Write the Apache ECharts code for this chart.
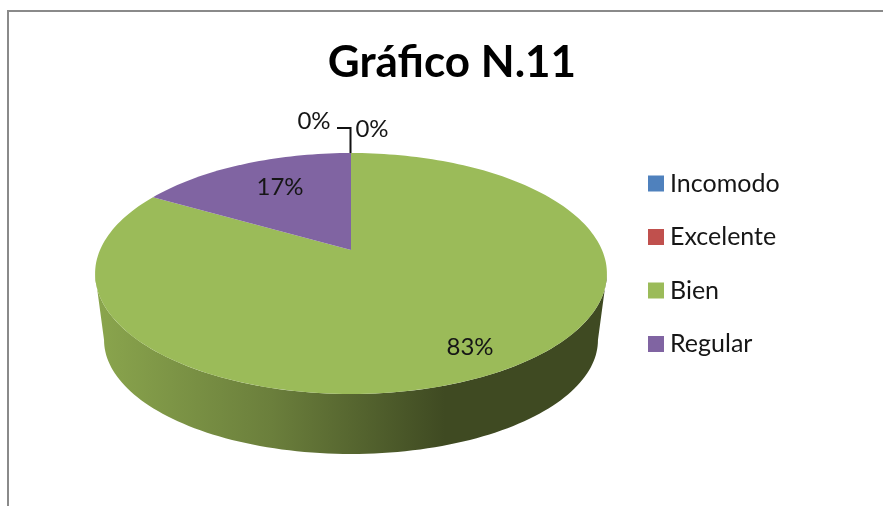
<!DOCTYPE html>
<html>
<head>
<meta charset="utf-8">
<style>html,body{margin:0;padding:0;background:#fff}#c{width:883px;height:506px}</style>
<script src="https://cdn.jsdelivr.net/npm/echarts@6/dist/echarts.min.js"></script>
</head>
<body>
<div id="c"></div>
<script>
const chartTitle = 'Gráfico N.11';
const categories = ['Incomodo', 'Excelente', 'Bien', 'Regular'];
const values = [0, 0, 25, 5];
const colors = ['#4f81bd', '#c0504d', '#9bbb59', '#8064a2'];
const labelPositions = [[314, 121], [372, 129], [470, 347], [280, 187]];

const total = values.reduce((a, b) => a + b, 0);
const P = {cx: 351, apexY: 250, A: 251, B: 115.9, k: 0.195, midY: 273.5, botMidY: 340, sx: 0.965, sy: 0.946};
const FRONT_A = 101.2, FRONT_B = 258.8;

function topPoint(deg) {
  const t = deg * Math.PI / 180, u = Math.sin(t), v = Math.cos(t), d = 1 + P.k * v;
  return [P.cx + P.A * u / d, P.apexY - P.B * v / d];
}
function bottomPoint(deg) {
  const p = topPoint(deg);
  return [P.cx + (p[0] - P.cx) * P.sx, P.botMidY + (p[1] - P.midY) * P.sy];
}
function arcPts(fn, a, b) {
  const pts = [], n = Math.max(2, Math.ceil(Math.abs(b - a) / 1.5));
  for (let i = 0; i <= n; i++) pts.push(fn(a + (b - a) * i / n));
  return pts;
}
const wallFill = new echarts.graphic.LinearGradient(97, 0, 445, 0, [
  {offset: 0, color: '#8aa54d'},
  {offset: 0.5, color: '#6b7f3c'},
  {offset: 1, color: '#3f4a22'}
], true);

function makeRender(idx) {
  return function (params, api) {
    const val = api.value(0);
    let before = 0;
    for (let i = 0; i < idx; i++) before += values[i];
    const a0 = before / total * 360, a1 = (before + val) / total * 360;
    const children = [];
    const fa = Math.max(a0, FRONT_A), fb = Math.min(a1, FRONT_B);
    if (fb > fa) {
      children.push({type: 'polygon', shape: {points: arcPts(topPoint, fa, fb).concat(arcPts(bottomPoint, fb, fa))},
        style: {fill: wallFill}});
    }
    if (a1 > a0) {
      children.push({type: 'polygon', shape: {points: [[P.cx, P.apexY]].concat(arcPts(topPoint, a0, a1))},
        style: {fill: colors[idx]}});
    }
    if (idx === 0) {
      children.push({type: 'polyline', shape: {points: [[350.5, 153], [350.5, 128], [337, 128]]},
        style: {stroke: '#111', lineWidth: 2, fill: 'none'}});
    }
    children.push({type: 'text', z2: 10, style: {
      x: labelPositions[idx][0], y: labelPositions[idx][1],
      text: Math.round(val / total * 100) + '%',
      align: 'center', verticalAlign: 'middle',
      font: '24px Lato', fill: '#161616'}});
    return {type: 'group', children: children};
  };
}

const chart = echarts.init(document.getElementById('c'), null, {renderer: 'canvas'});
chart.setOption({
  animation: false,
  backgroundColor: '#fff',
  title: {text: chartTitle, left: 447, top: 36, textAlign: 'center',
    textStyle: {fontFamily: 'Lato', fontWeight: 'bold', fontSize: 44, color: '#000'}},
  legend: {
    data: categories, orient: 'vertical', left: 643, top: 166, selectedMode: false,
    icon: 'rect', itemWidth: 16, itemHeight: 16, itemGap: 28.5,
    textStyle: {fontFamily: 'Lato', fontSize: 25, color: '#161616', padding: [0, 0, 0, 1]}
  },
  graphic: [{type: 'polyline', silent: true, shape: {points: [[8, 506], [8, 11], [883, 11]]},
    style: {stroke: '#8a8a8a', lineWidth: 2, fill: 'none'}}],
  series: categories.map((name, i) => ({
    type: 'custom', name: name, coordinateSystem: 'none',
    itemStyle: {color: colors[i]},
    renderItem: makeRender(i), data: [values[i]], silent: true
  }))
});
</script>
</body>
</html>
